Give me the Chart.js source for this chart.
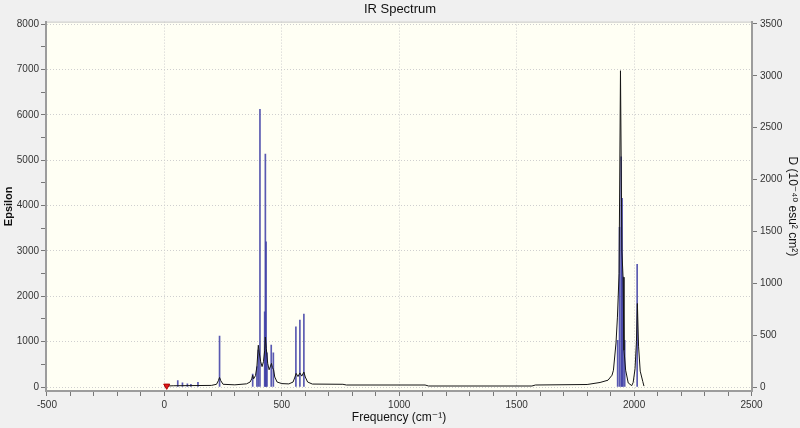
<!DOCTYPE html>
<html><head><meta charset="utf-8">
<script src="https://cdn.jsdelivr.net/npm/chart.js@4"></script>
<style>html,body{margin:0;padding:0;background:#f0f0f0;}canvas{display:block;}</style>
</head><body>
<canvas id="c" width="800" height="428"></canvas>
<script>
// Stick spectrum (right axis, D in 10^-40 esu^2 cm^2)
const stickFreq = [57,77,98,113,143,235,376,394,400,407,427,430,433,437,455,464,560,577,594,1930,1938,1945,1949,1953,1960,2013];
const stickD    = [61,40,30,25,45,492,125,196,357,2677,725,2246,1400,330,405,330,581,646,704,450,1540,2220,1820,1060,450,1183];
// Broadened spectrum curve (left axis, Epsilon)
const curveFreq = [0,40,200,222,230,235,240,250,300,350,365,372,376,380,388,394,400,404,410,416,422,427,430,434,440,446,452,456,460,465,470,480,500,530,548,556,561,569,577,585,594,600,610,630,760,775,1110,1125,1565,1580,1800,1855,1889,1906,1912,1923,1929,1936,1942,1948,1953,1957,1964,1975,1990,1996,2004,2010,2014,2019,2026,2037,2042];
const curveEps  = [20,28,35,60,140,210,140,60,48,70,110,180,260,180,250,450,920,750,560,450,560,800,1100,850,520,380,460,520,430,380,220,110,75,68,110,220,300,230,310,240,330,220,110,65,60,44,44,22,22,44,55,100,150,260,370,970,1540,2500,6970,3000,2420,810,370,90,30,100,400,1000,1840,900,350,120,20];
// Marker
const markerFreq = [10];
const markerEps  = [25];
// Tick labels
const freqTickLabels = [-500,0,500,1000,1500,2000,2500];
const epsTickLabels  = [0,1000,2000,3000,4000,5000,6000,7000,8000];
const dTickLabels    = [0,500,1000,1500,2000,2500,3000,3500];

const FAM = "'Liberation Sans Narrow','Liberation Sans','DejaVu Sans',Arial,sans-serif";
const FAM2 = "'Liberation Sans','DejaVu Sans',Arial,sans-serif";
const tickFont = {family: FAM, size: 10};

const plotBg = {
  id: 'plotBg',
  beforeDraw(chart) {
    const {ctx, chartArea: a} = chart;
    ctx.save();
    ctx.fillStyle = '#fffff4';
    ctx.fillRect(a.left, a.top, a.right - a.left, a.bottom - a.top);
    ctx.strokeStyle = '#c4c4c4';
    ctx.lineWidth = 1;
    ctx.strokeRect(a.left + 0.5, a.top + 0.5, a.right - a.left - 1, a.bottom - a.top - 1);
    ctx.restore();
  }
};

function stepTicks(from, to, step) {
  const t = [];
  for (let v = from; v <= to; v += step) t.push({value: v});
  return t;
}

new Chart(document.getElementById('c'), {
  data: {
    datasets: [
      {
        type: 'scatter', label: 'marker',
        data: markerFreq.map((f, i) => ({x: f, y: markerEps[i]})),
        pointStyle: 'triangle', rotation: 180, pointRadius: 3.5,
        backgroundColor: '#e01818', borderColor: '#b00000', borderWidth: 1,
        xAxisID: 'x', yAxisID: 'y', order: -1
      },
      {
        type: 'line', label: 'Epsilon',
        data: curveFreq.map((f, i) => ({x: f, y: curveEps[i]})),
        borderColor: '#151515', borderWidth: 1, pointRadius: 0, tension: 0,
        fill: false, xAxisID: 'x', yAxisID: 'y', order: 0
      },
      {
        type: 'bar', label: 'D',
        data: stickFreq.map((f, i) => ({x: f, y: stickD[i]})),
        backgroundColor: 'rgba(60,60,165,0.85)', borderWidth: 0,
        barThickness: 1, xAxisID: 'x', yAxisID: 'y2', order: 2
      }
    ]
  },
  options: {
    responsive: false, animation: false, devicePixelRatio: 1,
    layout: {padding: 0},
    plugins: {
      legend: {display: false},
      tooltip: {enabled: false},
      title: {display: true, text: 'IR Spectrum', color: '#111',
        font: {family: FAM2, size: 13, weight: 'normal'}, padding: {top: 2, bottom: 4}}
    },
    scales: {
      x: {
        type: 'linear', position: 'bottom', min: -504, max: 2502, offset: false,
        afterBuildTicks: s => { s.ticks = stepTicks(-500, 2500, 100); },
        afterFit: s => { s.height = 37; },
        ticks: {autoSkip: false, maxRotation: 0, padding: 3, font: tickFont, color: '#333',
          callback: v => freqTickLabels.includes(v) ? String(v) : ''},
        grid: {offset: false, lineWidth: 1, drawTicks: true, tickLength: 5, tickColor: '#777',
          color: c => (c.tick && c.tick.value % 500 === 0 && c.tick.value > -500 && c.tick.value < 2500) ? '#cfcfcf' : 'rgba(0,0,0,0)'},
        border: {display: true, color: '#9c9c9c', width: 2, dash: [1, 2]},
        title: {display: true, text: 'Frequency (cm⁻¹)', color: '#111',
          font: {family: FAM2, size: 12}, padding: {top: 0, bottom: 3}}
      },
      y: {
        type: 'linear', position: 'left', min: -88, max: 8053,
        afterBuildTicks: s => { s.ticks = stepTicks(0, 8000, 500); },
        afterFit: s => { s.width = 46; },
        ticks: {autoSkip: false, padding: 2, font: tickFont, color: '#333',
          callback: v => epsTickLabels.includes(v) ? String(v) : ''},
        grid: {lineWidth: 1, drawTicks: true, tickLength: 5, tickColor: '#777',
          color: c => (c.tick && c.tick.value % 1000 === 0) ? '#cfcfcf' : 'rgba(0,0,0,0)'},
        border: {display: true, color: '#9c9c9c', width: 2, dash: [1, 2]},
        title: {display: true, text: 'Epsilon', color: '#111',
          font: {family: FAM2, size: 11, weight: 'bold'}, padding: {top: 2, bottom: 0}}
      },
      y2: {
        type: 'linear', position: 'right', min: -38.5, max: 3523,
        afterBuildTicks: s => { s.ticks = dTickLabels.map(v => ({value: v})); },
        afterFit: s => { s.width = 48; },
        ticks: {autoSkip: false, padding: 3, font: tickFont, color: '#333',
          callback: v => String(v)},
        grid: {drawOnChartArea: false, drawTicks: true, tickLength: 5, tickColor: '#777'},
        border: {display: true, color: '#9c9c9c', width: 2},
        title: {display: true, text: 'D (10⁻⁴⁰ esu² cm²)', color: '#111',
          font: {family: FAM2, size: 12}, padding: {top: 0, bottom: 5}}
      }
    }
  },
  plugins: [plotBg]
});
</script>
</body></html>
